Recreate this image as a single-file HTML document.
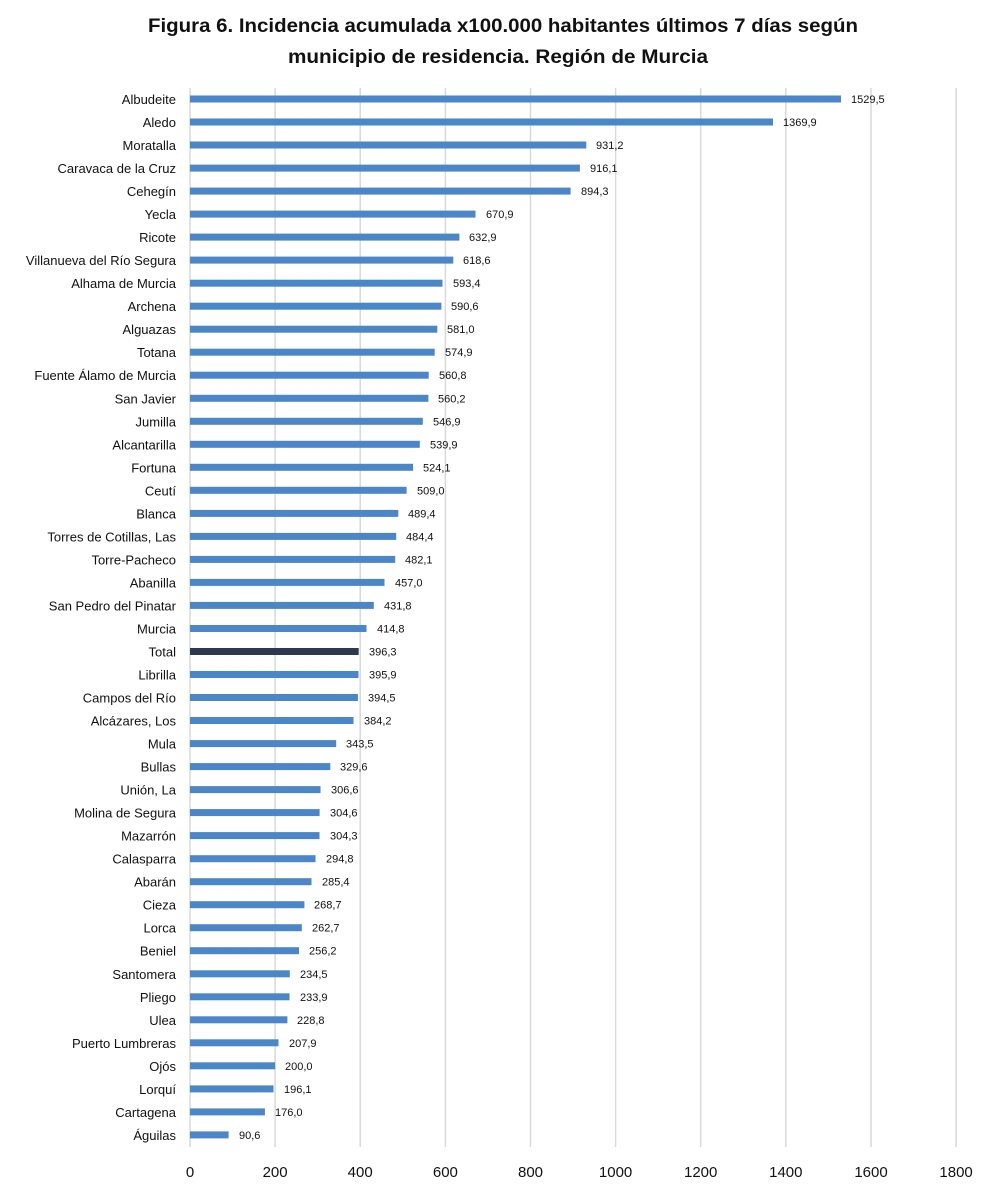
<!DOCTYPE html>
<html><head><meta charset="utf-8"><style>
body{margin:0;background:#fff;width:1000px;height:1191px;overflow:hidden}
svg{display:block;font-family:"Liberation Sans",sans-serif}
.l{font-size:13px;text-anchor:end;fill:#111}
.v{font-size:11px;fill:#111}
.b{fill:#4a86c8}
</style></head><body>
<svg width="1000" height="1191" viewBox="0 0 1000 1191">
<text x="148" y="32" font-size="19" font-weight="bold" fill="#111" textLength="710" lengthAdjust="spacingAndGlyphs">Figura 6. Incidencia acumulada x100.000 habitantes últimos 7 días según</text>
<text x="288" y="63" font-size="19" font-weight="bold" fill="#111" textLength="420" lengthAdjust="spacingAndGlyphs">municipio de residencia. Región de Murcia</text>
<g stroke="#d9d9d9" stroke-width="1.5">
<line x1="190" y1="88" x2="190" y2="1147"/><line x1="275.1" y1="88" x2="275.1" y2="1147"/><line x1="360.2" y1="88" x2="360.2" y2="1147"/><line x1="445.4" y1="88" x2="445.4" y2="1147"/><line x1="530.5" y1="88" x2="530.5" y2="1147"/><line x1="615.6" y1="88" x2="615.6" y2="1147"/><line x1="700.7" y1="88" x2="700.7" y2="1147"/><line x1="785.8" y1="88" x2="785.8" y2="1147"/><line x1="871" y1="88" x2="871" y2="1147"/><line x1="956.1" y1="88" x2="956.1" y2="1147"/>
</g>
<g font-size="15" text-anchor="middle" fill="#111">
<text x="190" y="1177">0</text><text x="275.1" y="1177">200</text><text x="360.2" y="1177">400</text><text x="445.4" y="1177">600</text><text x="530.5" y="1177">800</text><text x="615.6" y="1177">1000</text><text x="700.7" y="1177">1200</text><text x="785.8" y="1177">1400</text><text x="871" y="1177">1600</text><text x="956.1" y="1177">1800</text>
</g>
<g transform="translate(0,99)"><text class="l" x="176" y="5">Albudeite</text><rect class="b" x="190" y="-3.5" width="651" height="7"/><text class="v" x="851" y="4">1529,5</text></g>
<g transform="translate(0,122)"><text class="l" x="176" y="5">Aledo</text><rect class="b" x="190" y="-3.5" width="583" height="7"/><text class="v" x="783" y="4">1369,9</text></g>
<g transform="translate(0,145)"><text class="l" x="176" y="5">Moratalla</text><rect class="b" x="190" y="-3.5" width="396.3" height="7"/><text class="v" x="596" y="4">931,2</text></g>
<g transform="translate(0,168.1)"><text class="l" x="176" y="5">Caravaca de la Cruz</text><rect class="b" x="190" y="-3.5" width="389.9" height="7"/><text class="v" x="590" y="4">916,1</text></g>
<g transform="translate(0,191.1)"><text class="l" x="176" y="5">Cehegín</text><rect class="b" x="190" y="-3.5" width="380.6" height="7"/><text class="v" x="581" y="4">894,3</text></g>
<g transform="translate(0,214.1)"><text class="l" x="176" y="5">Yecla</text><rect class="b" x="190" y="-3.5" width="285.5" height="7"/><text class="v" x="486" y="4">670,9</text></g>
<g transform="translate(0,237.1)"><text class="l" x="176" y="5">Ricote</text><rect class="b" x="190" y="-3.5" width="269.4" height="7"/><text class="v" x="469" y="4">632,9</text></g>
<g transform="translate(0,260.1)"><text class="l" x="176" y="5">Villanueva del Río Segura</text><rect class="b" x="190" y="-3.5" width="263.3" height="7"/><text class="v" x="463" y="4">618,6</text></g>
<g transform="translate(0,283.2)"><text class="l" x="176" y="5">Alhama de Murcia</text><rect class="b" x="190" y="-3.5" width="252.5" height="7"/><text class="v" x="453" y="4">593,4</text></g>
<g transform="translate(0,306.2)"><text class="l" x="176" y="5">Archena</text><rect class="b" x="190" y="-3.5" width="251.4" height="7"/><text class="v" x="451" y="4">590,6</text></g>
<g transform="translate(0,329.2)"><text class="l" x="176" y="5">Alguazas</text><rect class="b" x="190" y="-3.5" width="247.3" height="7"/><text class="v" x="447" y="4">581,0</text></g>
<g transform="translate(0,352.2)"><text class="l" x="176" y="5">Totana</text><rect class="b" x="190" y="-3.5" width="244.7" height="7"/><text class="v" x="445" y="4">574,9</text></g>
<g transform="translate(0,375.2)"><text class="l" x="176" y="5">Fuente Álamo de Murcia</text><rect class="b" x="190" y="-3.5" width="238.7" height="7"/><text class="v" x="439" y="4">560,8</text></g>
<g transform="translate(0,398.3)"><text class="l" x="176" y="5">San Javier</text><rect class="b" x="190" y="-3.5" width="238.4" height="7"/><text class="v" x="438" y="4">560,2</text></g>
<g transform="translate(0,421.3)"><text class="l" x="176" y="5">Jumilla</text><rect class="b" x="190" y="-3.5" width="232.8" height="7"/><text class="v" x="433" y="4">546,9</text></g>
<g transform="translate(0,444.3)"><text class="l" x="176" y="5">Alcantarilla</text><rect class="b" x="190" y="-3.5" width="229.8" height="7"/><text class="v" x="430" y="4">539,9</text></g>
<g transform="translate(0,467.3)"><text class="l" x="176" y="5">Fortuna</text><rect class="b" x="190" y="-3.5" width="223.1" height="7"/><text class="v" x="423" y="4">524,1</text></g>
<g transform="translate(0,490.3)"><text class="l" x="176" y="5">Ceutí</text><rect class="b" x="190" y="-3.5" width="216.6" height="7"/><text class="v" x="417" y="4">509,0</text></g>
<g transform="translate(0,513.4)"><text class="l" x="176" y="5">Blanca</text><rect class="b" x="190" y="-3.5" width="208.3" height="7"/><text class="v" x="408" y="4">489,4</text></g>
<g transform="translate(0,536.4)"><text class="l" x="176" y="5">Torres de Cotillas, Las</text><rect class="b" x="190" y="-3.5" width="206.2" height="7"/><text class="v" x="406" y="4">484,4</text></g>
<g transform="translate(0,559.4)"><text class="l" x="176" y="5">Torre-Pacheco</text><rect class="b" x="190" y="-3.5" width="205.2" height="7"/><text class="v" x="405" y="4">482,1</text></g>
<g transform="translate(0,582.4)"><text class="l" x="176" y="5">Abanilla</text><rect class="b" x="190" y="-3.5" width="194.5" height="7"/><text class="v" x="395" y="4">457,0</text></g>
<g transform="translate(0,605.4)"><text class="l" x="176" y="5">San Pedro del Pinatar</text><rect class="b" x="190" y="-3.5" width="183.8" height="7"/><text class="v" x="384" y="4">431,8</text></g>
<g transform="translate(0,628.5)"><text class="l" x="176" y="5">Murcia</text><rect class="b" x="190" y="-3.5" width="176.5" height="7"/><text class="v" x="377" y="4">414,8</text></g>
<g transform="translate(0,651.5)"><text class="l" x="176" y="5">Total</text><rect fill="#2b3a4f" x="190" y="-3.5" width="168.7" height="7"/><text class="v" x="369" y="4">396,3</text></g>
<g transform="translate(0,674.5)"><text class="l" x="176" y="5">Librilla</text><rect class="b" x="190" y="-3.5" width="168.5" height="7"/><text class="v" x="369" y="4">395,9</text></g>
<g transform="translate(0,697.5)"><text class="l" x="176" y="5">Campos del Río</text><rect class="b" x="190" y="-3.5" width="167.9" height="7"/><text class="v" x="368" y="4">394,5</text></g>
<g transform="translate(0,720.5)"><text class="l" x="176" y="5">Alcázares, Los</text><rect class="b" x="190" y="-3.5" width="163.5" height="7"/><text class="v" x="364" y="4">384,2</text></g>
<g transform="translate(0,743.6)"><text class="l" x="176" y="5">Mula</text><rect class="b" x="190" y="-3.5" width="146.2" height="7"/><text class="v" x="346" y="4">343,5</text></g>
<g transform="translate(0,766.6)"><text class="l" x="176" y="5">Bullas</text><rect class="b" x="190" y="-3.5" width="140.3" height="7"/><text class="v" x="340" y="4">329,6</text></g>
<g transform="translate(0,789.6)"><text class="l" x="176" y="5">Unión, La</text><rect class="b" x="190" y="-3.5" width="130.5" height="7"/><text class="v" x="331" y="4">306,6</text></g>
<g transform="translate(0,812.6)"><text class="l" x="176" y="5">Molina de Segura</text><rect class="b" x="190" y="-3.5" width="129.6" height="7"/><text class="v" x="330" y="4">304,6</text></g>
<g transform="translate(0,835.6)"><text class="l" x="176" y="5">Mazarrón</text><rect class="b" x="190" y="-3.5" width="129.5" height="7"/><text class="v" x="330" y="4">304,3</text></g>
<g transform="translate(0,858.7)"><text class="l" x="176" y="5">Calasparra</text><rect class="b" x="190" y="-3.5" width="125.5" height="7"/><text class="v" x="326" y="4">294,8</text></g>
<g transform="translate(0,881.7)"><text class="l" x="176" y="5">Abarán</text><rect class="b" x="190" y="-3.5" width="121.5" height="7"/><text class="v" x="322" y="4">285,4</text></g>
<g transform="translate(0,904.7)"><text class="l" x="176" y="5">Cieza</text><rect class="b" x="190" y="-3.5" width="114.4" height="7"/><text class="v" x="314" y="4">268,7</text></g>
<g transform="translate(0,927.7)"><text class="l" x="176" y="5">Lorca</text><rect class="b" x="190" y="-3.5" width="111.8" height="7"/><text class="v" x="312" y="4">262,7</text></g>
<g transform="translate(0,950.7)"><text class="l" x="176" y="5">Beniel</text><rect class="b" x="190" y="-3.5" width="109" height="7"/><text class="v" x="309" y="4">256,2</text></g>
<g transform="translate(0,973.8)"><text class="l" x="176" y="5">Santomera</text><rect class="b" x="190" y="-3.5" width="99.8" height="7"/><text class="v" x="300" y="4">234,5</text></g>
<g transform="translate(0,996.8)"><text class="l" x="176" y="5">Pliego</text><rect class="b" x="190" y="-3.5" width="99.5" height="7"/><text class="v" x="300" y="4">233,9</text></g>
<g transform="translate(0,1019.8)"><text class="l" x="176" y="5">Ulea</text><rect class="b" x="190" y="-3.5" width="97.4" height="7"/><text class="v" x="297" y="4">228,8</text></g>
<g transform="translate(0,1042.8)"><text class="l" x="176" y="5">Puerto Lumbreras</text><rect class="b" x="190" y="-3.5" width="88.5" height="7"/><text class="v" x="289" y="4">207,9</text></g>
<g transform="translate(0,1065.8)"><text class="l" x="176" y="5">Ojós</text><rect class="b" x="190" y="-3.5" width="85.1" height="7"/><text class="v" x="285" y="4">200,0</text></g>
<g transform="translate(0,1088.9)"><text class="l" x="176" y="5">Lorquí</text><rect class="b" x="190" y="-3.5" width="83.5" height="7"/><text class="v" x="284" y="4">196,1</text></g>
<g transform="translate(0,1111.9)"><text class="l" x="176" y="5">Cartagena</text><rect class="b" x="190" y="-3.5" width="74.9" height="7"/><text class="v" x="275" y="4">176,0</text></g>
<g transform="translate(0,1134.9)"><text class="l" x="176" y="5">Águilas</text><rect class="b" x="190" y="-3.5" width="38.6" height="7"/><text class="v" x="239" y="4">90,6</text></g>
</svg>
</body></html>
